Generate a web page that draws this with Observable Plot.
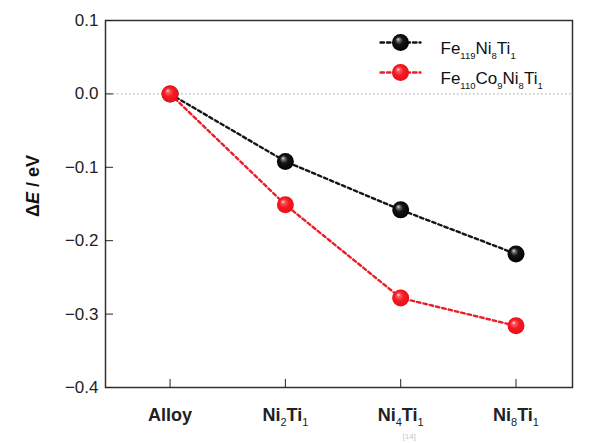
<!DOCTYPE html>
<html><head><meta charset="utf-8">
<script src="https://cdn.jsdelivr.net/npm/d3@7"></script>
<script src="https://cdn.jsdelivr.net/npm/@observablehq/plot@0.6"></script>
<style>body{margin:0;background:#fff} #chart{width:606px;height:443px}</style>
</head><body><div id="chart"></div>
<script>
const categories = ["Alloy", "Ni2Ti1", "Ni4Ti1", "Ni8Ti1"];
const seriesNames = ["Fe119Ni8Ti1", "Fe110Co9Ni8Ti1"];
const feNiTi = [0, -0.092, -0.158, -0.218];
const feCoNiTi = [0, -0.151, -0.278, -0.316];
const yTicks = [0.1, 0.0, -0.1, -0.2, -0.3, -0.4];
const colors = ["#151515", "#e8202a"];

const seriesValues = [feNiTi, feCoNiTi];
const tables = seriesValues.map((vals, s) => categories.map((c, i) => ({series: seriesNames[s], xi: i, value: vals[i]})));

const lineShape = {draw(context, l) { context.moveTo(0, 0); context.lineTo(0, -l); }};
const font = "'Liberation Sans', Arial, sans-serif";

const marks = [
  Plot.ruleY([0], {stroke: "#b5b5b5", strokeWidth: 1.2, strokeDasharray: "1.5,2.5"}),
  ...tables.map((t, s) => Plot.line(t, {x: "xi", y: "value", stroke: colors[s], strokeWidth: 2.4, strokeDasharray: "3.5,3"})),
  ...tables.map((t, s) => Plot.dot(t, {x: "xi", y: "value", r: 8.5, fill: `url(#ball${s})`, stroke: "none"})),
  Plot.frame({stroke: "#333", strokeWidth: 1.5}),
  Plot.axisX({ticks: [0, 1, 2, 3], tickFormat: i => categories[i], tickSize: -8, tickPadding: 29, label: null, fontSize: 18, fontWeight: "bold"}),
  Plot.axisY({ticks: yTicks, tickFormat: d3.format(".1f"), tickSize: -8, tickPadding: 15, label: null, fontSize: 17}),
  Plot.text(["ΔE / eV"], {frameAnchor: "left", dx: -72, dy: 13, rotate: -90, fontSize: 18, fontWeight: "bold", fill: "#111"}),
  ...seriesNames.map((n, s) => Plot.vector([n], {frameAnchor: "top-left", dx: 295, dy: 22 + s * 30, length: 40, rotate: 90, anchor: "middle", shape: lineShape, stroke: colors[s], strokeWidth: 2.4, strokeDasharray: "3.5,3"})),
  ...seriesNames.map((n, s) => Plot.dot([n], {frameAnchor: "top-left", dx: 295, dy: 22 + s * 30, r: 8.5, fill: `url(#ball${s})`, stroke: "none"})),
  ...seriesNames.map((n, s) => Plot.text([n], {frameAnchor: "top-left", dx: 335, dy: 21 + s * 30, textAnchor: "start", fontSize: 17, fill: "#111"})),
  Plot.text(["[14]"], {frameAnchor: "bottom-left", dx: 297, dy: 51, fontSize: 8, fill: "#c8c8c8"})
];

const plot = Plot.plot({
  width: 606, height: 443,
  marginLeft: 105, marginRight: 34, marginTop: 20, marginBottom: 56,
  style: {fontFamily: font, fontSize: "17px", color: "#222", background: "#fff"},
  x: {type: "linear", domain: [-0.56, 3.49]},
  y: {domain: [-0.4, 0.1]},
  marks
});

const svg = d3.select(plot);
const defs = svg.insert("defs", ":first-child");
const grads = [
  [["0%", "#e6e6e6"], ["16%", "#777"], ["42%", "#151515"], ["100%", "#000"]],
  [["0%", "#fff0f0"], ["18%", "#ff5a60"], ["50%", "#f41a22"], ["100%", "#e80c16"]]
];
grads.forEach((stops, s) => {
  const g = defs.append("radialGradient").attr("id", `ball${s}`).attr("cx", "50%").attr("cy", "50%").attr("r", "55%").attr("fx", "35%").attr("fy", "30%");
  stops.forEach(([o, c]) => g.append("stop").attr("offset", o).attr("stop-color", c));
});

function subscriptify(el, str, size) {
  const parts = str.split(/(\d+)/).filter(p => p.length);
  el.textContent = "";
  let shifted = false;
  parts.forEach(p => {
    const t = document.createElementNS("http://www.w3.org/2000/svg", "tspan");
    t.textContent = p;
    if (/^\d+$/.test(p)) {
      t.setAttribute("font-size", size);
      t.setAttribute("font-weight", "normal");
      t.setAttribute("dy", "5");
      shifted = true;
    } else if (shifted) {
      t.setAttribute("dy", "-5");
      shifted = false;
    }
    el.appendChild(t);
  });
}
svg.selectAll("text").each(function() {
  const s = this.textContent;
  if (categories.includes(s) && /\d/.test(s)) {
    subscriptify(this, s, "11");
  } else if (seriesNames.includes(s)) {
    subscriptify(this, s, "9.5");
  } else if (s === "ΔE / eV") {
    this.textContent = "";
    [["Δ", null], ["E", "italic"], [" / eV", null]].forEach(([p, st]) => {
      const t = document.createElementNS("http://www.w3.org/2000/svg", "tspan");
      t.textContent = p;
      if (st) t.setAttribute("font-style", st);
      this.appendChild(t);
    });
  }
});

document.getElementById("chart").appendChild(plot);
</script>
</body></html>
